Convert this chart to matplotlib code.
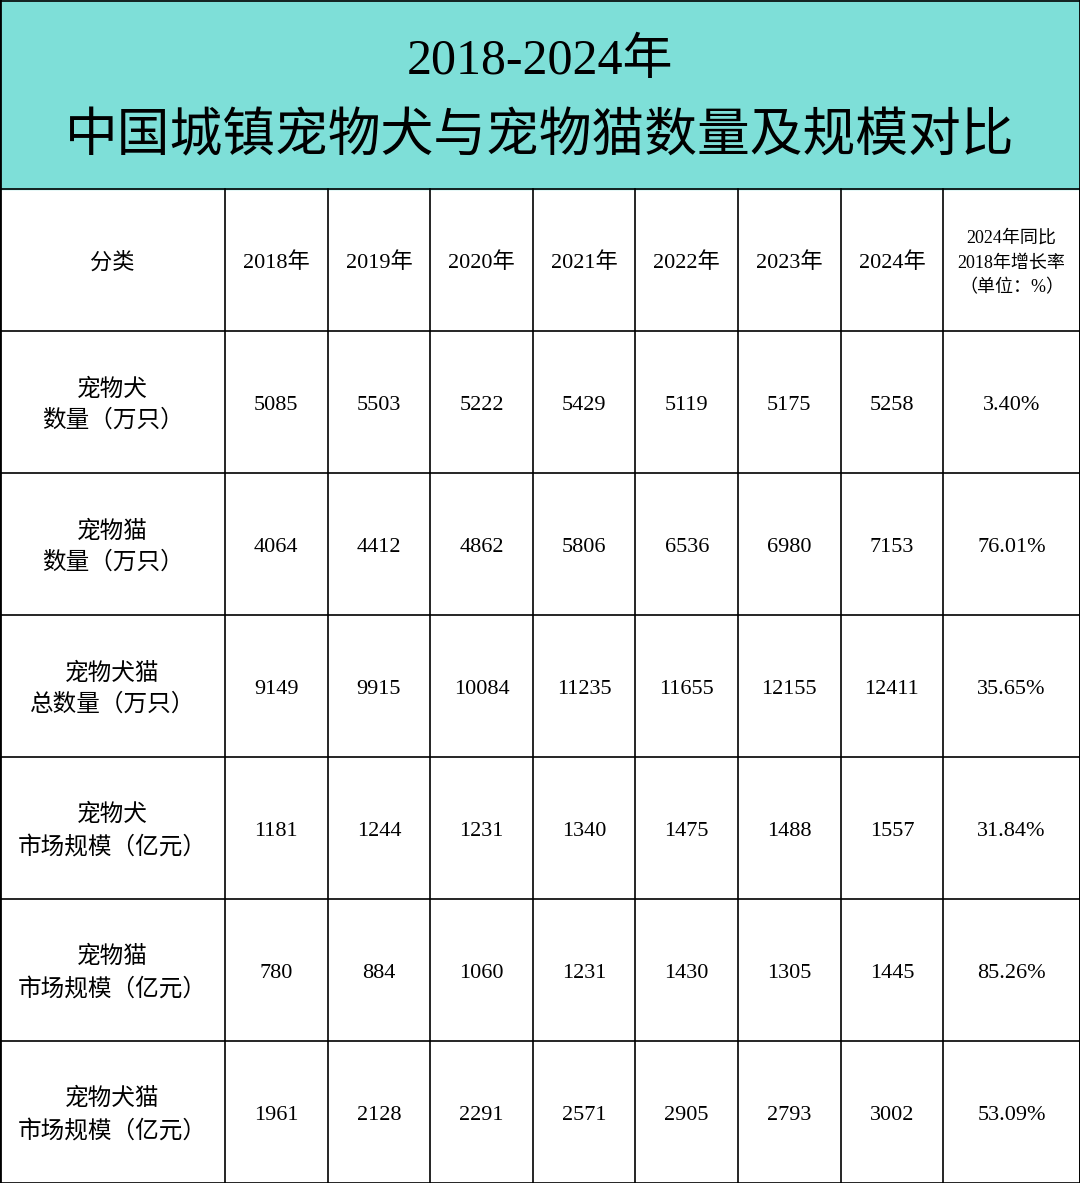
import matplotlib
matplotlib.use("Agg")
import matplotlib.pyplot as plt

plt.rcParams['font.family'] = ['Liberation Serif', 'Noto Sans CJK SC', 'DejaVu Sans']

title_lines = ["2018-2024年", "中国城镇宠物犬与宠物猫数量及规模对比"]
years = ["2018年", "2019年", "2020年", "2021年", "2022年", "2023年", "2024年"]
last_header = "2024年同比\n2018年增长率\n（单位：%）"
categories = ["宠物犬\n数量（万只）", "宠物猫\n数量（万只）", "宠物犬猫\n总数量（万只）",
              "宠物犬\n市场规模（亿元）", "宠物猫\n市场规模（亿元）", "宠物犬猫\n市场规模（亿元）"]
values = [
    [5085, 5503, 5222, 5429, 5119, 5175, 5258],
    [4064, 4412, 4862, 5806, 6536, 6980, 7153],
    [9149, 9915, 10084, 11235, 11655, 12155, 12411],
    [1181, 1244, 1231, 1340, 1475, 1488, 1557],
    [780, 884, 1060, 1231, 1430, 1305, 1445],
    [1961, 2128, 2291, 2571, 2905, 2793, 3002],
]
growth = ["3.40%", "76.01%", "35.65%", "31.84%", "85.26%", "53.09%"]

W, H = 1080, 1183
fig = plt.figure(figsize=(W/100, H/100), dpi=100)
ax = fig.add_axes([0, 0, 1, 1])
ax.set_xlim(0, W); ax.set_ylim(H, 0); ax.axis('off')

ax.add_patch(plt.Rectangle((0, 0), W, 189, color='#7EDFD8', zorder=0))
ax.text(540, 62, title_lines[0], ha='center', va='center', fontsize=36)
ax.text(540, 138, title_lines[1], ha='center', va='center', fontsize=38)

xs = [0, 225] + [225 + 102.6*(i+1) for i in range(7)] + [1080]
ys = [189, 331] + [331 + 142*(i+1) for i in range(6)]
lw = 1.2
for x in xs:
    ax.plot([x, x], [189, H], color='black', lw=lw)
for y in ys:
    ax.plot([0, W], [y, y], color='black', lw=lw)
ax.plot([0, W], [0.5, 0.5], color='black', lw=lw)
ax.plot([0, 0], [0, H], color='black', lw=2)
ax.plot([W, W], [0, H], color='black', lw=2)

def cx(i): return (xs[i] + xs[i+1]) / 2
def cy(j): return (ys[j] + ys[j+1]) / 2 + 3

ax.text(cx(0), cy(0), "分类", ha='center', va='center', fontsize=16)
for i, yr in enumerate(years):
    ax.text(cx(i+1), cy(0), yr, ha='center', va='center', fontsize=16)
ax.text(cx(8), cy(0), last_header, ha='center', va='center', fontsize=13, linespacing=1.6)
for j, cat in enumerate(categories):
    ax.text(cx(0), cy(j+1), cat, ha='center', va='center', fontsize=17, linespacing=1.5)
    for i, v in enumerate(values[j]):
        ax.text(cx(i+1), cy(j+1), str(v), ha='center', va='center', fontsize=16)
    ax.text(cx(8), cy(j+1), growth[j], ha='center', va='center', fontsize=16)

fig.savefig("out.png", dpi=100)
